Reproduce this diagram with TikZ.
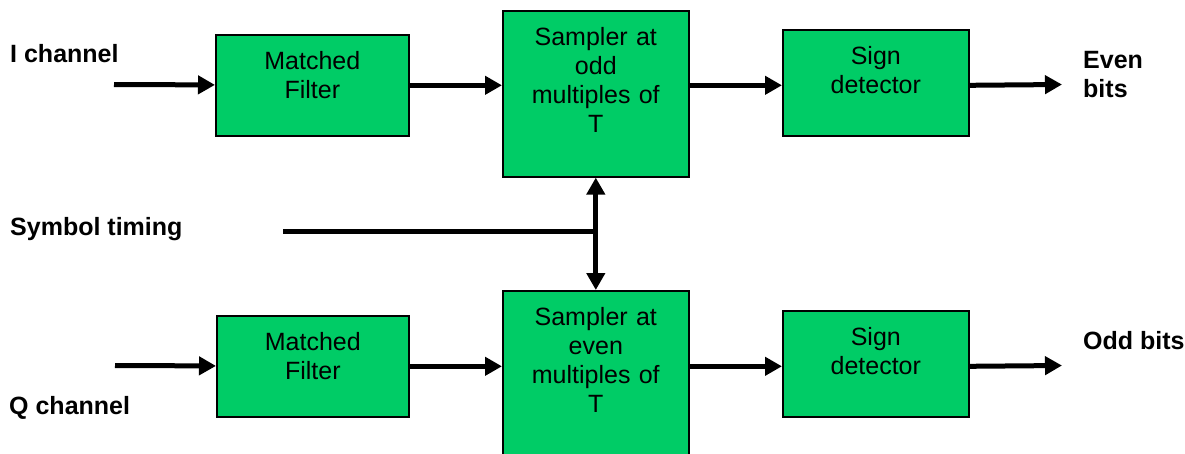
\documentclass[tikz,border=0pt]{standalone}
\usepackage{fontspec}
\setmainfont{Liberation Sans}
\usetikzlibrary{positioning,arrows.meta,calc}
\definecolor{boxgreen}{RGB}{0,204,102}

\begin{document}
\begin{tikzpicture}[x=1pt, y=-1pt, font=\fontsize{25}{28.8}\selectfont,
  blk/.style={draw=black, line width=1.6pt, fill=boxgreen, inner sep=0pt, align=center, anchor=north west, text height=35pt},
  lab/.style={font=\fontsize{25}{29}\selectfont\bfseries, inner sep=0pt, anchor=base west},
  sig/.style={line width=5pt, -{Triangle[length=17pt,width=18pt]}}]
  \clip (0,0) rectangle (1185,453);
  % I branch
  \node[blk, text width=193pt, text depth=66pt] (mfI) at (215,34) {Matched\\Filter};
  \node[blk, text width=186pt, text depth=131pt] (smpI) at (502,10) {Sampler at\\odd\\multiples of\\T};
  \node[blk, text width=186pt, text depth=71pt] (sdI) at (782,29) {Sign\\detector};
  % Q branch
  \node[blk, text width=192pt, text depth=66pt] (mfQ) at (216,315) {Matched\\Filter};
  \node[blk, text width=186pt, text depth=131pt] (smpQ) at (502,290) {Sampler at\\even\\multiples of\\T};
  \node[blk, text width=186pt, text depth=71pt] (sdQ) at (782,310) {Sign\\detector};
  % labels
  \node[lab] (lI) at (10,62) {I channel};
  \node[lab] (lT) at (10,235) {Symbol timing};
  \node[lab] (lQ) at (9,414) {Q channel};
  \node[lab, text width=100pt, align=left] (lE) at (1083,68) {Even\\bits};
  \node[lab] (lO) at (1083,349) {Odd bits};
  \coordinate (inI) at (114,84.5);
  \coordinate (inQ) at (115,365.5);
  \coordinate (outI) at (1062,84.5);
  \coordinate (outQ) at (1062,365.5);
  \coordinate (tm) at (283,231);
  \foreach \mf/\smp/\sd/\in/\out in {mfI/smpI/sdI/inI/outI, mfQ/smpQ/sdQ/inQ/outQ}{
    \draw[sig] (\in) -- (\mf);
    \draw[sig] (\mf) -- (\mf -| \smp.west);
    \draw[sig] (\mf -| \smp.east) -- (\mf -| \sd.west);
    \draw[sig] (\mf -| \sd.east) -- (\out);
  }
  % timing
  \draw[line width=5pt] (tm) -- (tm -| smpI.south);
  \draw[line width=5pt, {Triangle[length=17pt,width=18pt]}-{Triangle[length=17pt,width=18pt]}] (smpI.south) -- (smpQ.north);
\end{tikzpicture}
\end{document}
